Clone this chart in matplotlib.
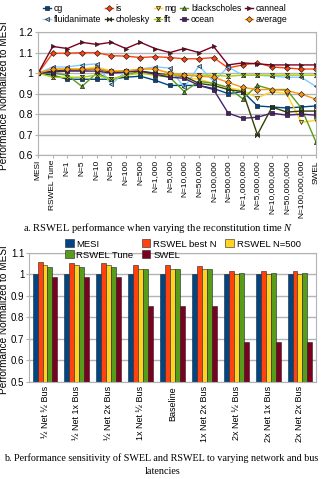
import numpy as np
import matplotlib.pyplot as plt
from matplotlib.patches import Patch

plt.rcParams['font.family'] = ['Liberation Sans', 'DejaVu Sans']
plt.rcParams['mathtext.fontset'] = 'custom'
plt.rcParams['mathtext.it'] = 'Liberation Serif:italic'
plt.rcParams['mathtext.rm'] = 'Liberation Serif'

# ---- chart a: reconstitution time ----
settings = ['MESI', 'RSWEL Tune', 'N=1', 'N=5', 'N=10', 'N=50', 'N=100', 'N=500',
            'N=1,000', 'N=5,000', 'N=10,000', 'N=50,000', 'N=100,000', 'N=500,000',
            'N=1,000,000', 'N=5,000,000', 'N=10,000,000', 'N=50,000,000',
            'N=100,000,000', 'SWEL']
cg = [1.0, 0.99, 0.97, 0.97, 0.97, 0.97, 0.98, 0.985, 0.965, 0.94, 0.94, 0.94, 0.925,
      0.90, 0.91, 0.84, 0.835, 0.83, 0.835, 0.84]
is_ = [1.0, 1.097, 1.097, 1.10, 1.10, 1.085, 1.083, 1.076, 1.08, 1.076, 1.07, 1.07,
       1.076, 1.025, 1.04, 1.05, 1.03, 1.025, 1.02, 1.02]
mg = [1.0, 1.02, 1.02, 1.02, 1.03, 1.01, 1.01, 1.02, 1.02, 1.0, 0.98, 0.97, 0.95, 0.93,
      0.915, 0.88, 0.91, 0.90, 0.76, 0.77]
blackscholes = [1.0, 1.0, 0.99, 0.935, 1.0, 0.97, 0.99, 1.01, 0.99, 0.98, 0.91, 0.96,
                0.95, 0.93, 0.875, 0.94, 0.92, 0.92, 0.83, 0.665]
canneal = [1.0, 1.13, 1.12, 1.15, 1.14, 1.15, 1.12, 1.15, 1.12, 1.10, 1.12, 1.10, 1.13,
           1.04, 1.05, 1.045, 1.04, 1.04, 1.04, 1.04]
fluidanimate = [1.0, 1.03, 1.03, 1.04, 1.045, 0.945, 1.01, 1.02, 1.03, 1.025, 0.93,
                1.035, 0.96, 1.03, 0.99, 0.99, 0.985, 0.98, 0.98, 0.935]
cholesky = [1.0, 1.01, 1.015, 1.015, 1.02, 1.005, 1.01, 1.01, 1.0, 0.99, 0.985, 0.95,
            0.94, 0.92, 0.91, 0.70, 0.835, 0.81, 0.815, 0.815]
fft = [1.0, 0.98, 0.98, 0.98, 0.99, 0.97, 0.99, 1.0, 0.99, 0.99, 0.99, 0.99, 0.99,
       0.985, 0.99, 0.99, 0.99, 0.99, 0.99, 0.99]
ocean = [1.0, 1.005, 1.01, 1.01, 1.01, 1.0, 1.005, 1.01, 0.995, 0.98, 0.975, 0.94,
         0.92, 0.805, 0.78, 0.785, 0.805, 0.795, 0.80, 0.795]
average = [1.0, 1.02, 1.02, 1.02, 1.02, 1.01, 1.01, 1.02, 1.02, 1.0, 0.99, 0.985, 0.98,
           0.955, 0.93, 0.92, 0.92, 0.915, 0.898, 0.873]

bowtie = [(-1, -1), (-1, 1), (1, -1), (1, 1), (-1, -1)]
hourglass = [(-1, 1), (1, 1), (-1, -1), (1, -1), (-1, 1)]
series = [
    ('cg', cg, '#004586', 's'),
    ('is', is_, '#ff420e', 'D'),
    ('mg', mg, '#ffd320', 'v'),
    ('blackscholes', blackscholes, '#579d1c', '^'),
    ('canneal', canneal, '#7e0021', '>'),
    ('fluidanimate', fluidanimate, '#83caff', '<'),
    ('cholesky', cholesky, '#314004', bowtie),
    ('fft', fft, '#aecf00', hourglass),
    ('ocean', ocean, '#4b1f6f', 's'),
    ('average', average, '#ff950e', 'D'),
]

# ---- chart b: latency sensitivity ----
configs = ['½ Net ½ Bus', '½ Net 1x Bus', '½ Net 2x Bus', '1x Net ½ Bus', 'Baseline',
           '1x Net 2x Bus', '2x Net ½ Bus', '2x Net 1x Bus', '2x Net 2x Bus']
mesi = [1.0] * 9
rswel_best = [1.056, 1.055, 1.054, 1.042, 1.042, 1.041, 1.018, 1.018, 1.018]
rswel_500 = [1.045, 1.045, 1.043, 1.027, 1.027, 1.027, 1.0, 1.0, 1.0]
rswel_tune = [1.036, 1.035, 1.034, 1.024, 1.024, 1.024, 1.006, 1.006, 1.006]
swel = [0.988, 0.988, 0.988, 0.851, 0.851, 0.851, 0.685, 0.685, 0.685]

grey = '#b3b3b3'
fig = plt.figure(figsize=(3.23, 4.79), dpi=100)

ax = fig.add_axes([0.118, 0.676, 0.86, 0.257])
x = np.arange(len(settings))
lines = {}
for name, vals, col, mk in series:
    lines[name], = ax.plot(x, vals, color=col, lw=1.0, marker=mk, ms=3, mfc=col,
                           mec='#222222', mew=0.5, label=name)
ax.set_xlim(0, len(settings) - 1)
ax.set_ylim(0.6, 1.2)
ax.set_yticks(np.arange(0.6, 1.21, 0.1))
ax.set_yticklabels(['0.6', '0.7', '0.8', '0.9', '1', '1.1', '1.2'], fontsize=7.5)
ax.set_xticks(x)
ax.set_xticklabels(settings, rotation=90, fontsize=6)
ax.yaxis.grid(True, color=grey, lw=1)
ax.set_axisbelow(True)
for s in ax.spines.values():
    s.set_color(grey)
ax.tick_params(length=2, color=grey, pad=1.5)
ax.set_ylabel('Performance Normalized to MESI', fontsize=7.2)
ax.yaxis.set_label_coords(-0.105, 0.48)
# legend fills column-wise, so interleave the two rows
top_order = ['cg', 'fluidanimate', 'is', 'cholesky', 'mg', 'fft',
             'blackscholes', 'ocean', 'canneal', 'average']
fig.legend([lines[k] for k in top_order], top_order, loc='upper left',
           bbox_to_anchor=(0.11, 1.008), ncol=5, fontsize=6.3, frameon=False,
           handlelength=0.9, handletextpad=0.3, columnspacing=0.45, labelspacing=0.25)
fig.text(0.49, 0.525, 'a. RSWEL performance when varying the reconstitution time $N$',
         ha='center', va='center', family='Liberation Serif', fontsize=7.6)

bx = fig.add_axes([0.09, 0.2025, 0.888, 0.2695])
g = np.arange(len(configs))
w = 0.156
bar_sets = [('MESI', mesi, '#004586'), ('RSWEL best N', rswel_best, '#ff420e'),
            ('RSWEL N=500', rswel_500, '#ffd320'), ('RSWEL Tune', rswel_tune, '#579d1c'),
            ('SWEL', swel, '#7e0021')]
handles = {}
for i, (name, vals, col) in enumerate(bar_sets):
    bx.bar(g + (i - 2) * w, np.array(vals) - 0.5, bottom=0.5, width=w, color=col,
           edgecolor='#222222', lw=0.4)
    handles[name] = Patch(facecolor=col, edgecolor='#222222', lw=0.4)
bx.set_xlim(-0.5, len(configs) - 0.5)
bx.set_ylim(0.5, 1.1)
bx.set_yticks(np.arange(0.5, 1.11, 0.1))
bx.set_yticklabels(['0.5', '0.6', '0.7', '0.8', '0.9', '1', '1.1'], fontsize=7)
bx.set_xticks(g)
bx.set_xticklabels(configs, rotation=90, fontsize=6.5)
bx.yaxis.grid(True, color=grey, lw=1)
bx.set_axisbelow(True)
for s in bx.spines.values():
    s.set_color(grey)
bx.tick_params(axis='x', length=0, pad=3)
bx.tick_params(axis='y', length=2, color=grey, pad=1.5)
bx.set_ylabel('Performance Normalized to MESI', fontsize=7.2)
bx.yaxis.set_label_coords(-0.07, 0.48)
order = ['MESI', 'RSWEL Tune', 'RSWEL best N', 'SWEL', 'RSWEL N=500']
fig.legend([handles[k] for k in order], order, loc='upper left',
           bbox_to_anchor=(0.175, 0.518), ncol=3, fontsize=6.8, frameon=False,
           handlelength=0.9, handleheight=0.9, handletextpad=0.3, columnspacing=0.9,
           labelspacing=0.2)
fig.text(0.5, 0.044, 'b. Performance sensitivity of SWEL and RSWEL to varying network and bus',
         ha='center', va='center', family='Liberation Serif', fontsize=7.3)
fig.text(0.505, 0.015, 'latencies', ha='center', va='center',
         family='Liberation Serif', fontsize=7.3)

fig.savefig('out.png', dpi=100)
